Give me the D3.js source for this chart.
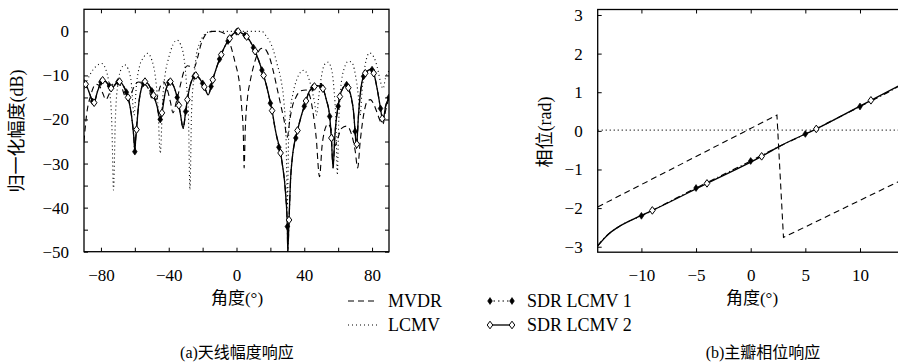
<!DOCTYPE html>
<html>
<head>
<meta charset="utf-8">
<script src="https://cdn.jsdelivr.net/npm/d3@7"></script>
<style>
  body { margin: 0; background: #fff; }
  svg { display: block; }
  text { font-family: "Liberation Serif", "Noto Sans CJK SC", serif; fill: #000; }
</style>
</head>
<body>
<svg id="chart" width="898" height="364"></svg>
<script>
// ---- data (a): normalised magnitude, [angle deg, dB]
const mvdrDb = [[-90,-25],[-88.5,-19],[-86,-14.5],[-83,-12],[-81,-12.3],[-79,-14],[-77,-15.5],[-75.5,-14.5],[-73,-12],[-71,-11.5],[-68,-12.5],[-65.5,-15],[-63.5,-15.5],[-61,-13],[-58,-11.5],[-55,-11.8],[-52,-13],[-49.5,-15.5],[-47.5,-15.5],[-45,-12.5],[-43,-11.5],[-41,-13],[-39,-16],[-37.5,-18.5],[-35.5,-16],[-33,-12],[-31,-9],[-29,-7.8],[-27,-8],[-25,-8.2],[-23,-6],[-21,-3],[-19,-1.2],[-17,-0.3],[-14,0],[-11,0],[-8,-0.3],[-5,-1.6],[-3,-3.8],[-1,-6.8],[1,-10],[2,-12.5],[3,-17],[4,-23],[4.5,-31],[5.2,-22],[6.5,-15],[8,-11.5],[10,-8],[12,-5.5],[14,-4],[16,-3.8],[18,-4.6],[20,-6.5],[22,-9.5],[24,-13],[26,-16.5],[28,-20],[30,-24],[31.5,-20],[33,-17],[35,-15],[38,-13.5],[41,-13.3],[43.5,-15],[45,-18],[47,-24],[49,-33],[50.5,-26],[52,-22.5],[54,-21],[56,-22.5],[58,-26],[60,-24],[62,-22],[65,-21.5],[68,-23.5],[70,-27],[71.5,-31],[73,-25],[75,-19],[77,-16],[79,-15.5],[81,-16.5],[83,-18.5],[85,-20.5],[86.5,-21],[88,-18],[90,-15]];

const lcmvDb = [[-90,-13],[-88,-11],[-86,-9.5],[-83,-8],[-79.5,-7.3],[-77,-8.8],[-75,-13],[-73.5,-22],[-72.6,-36],[-71.5,-20],[-70,-12],[-68,-8.5],[-66,-7.6],[-64,-8.5],[-62,-12],[-60.5,-19],[-59,-12],[-57,-7.6],[-55,-6],[-52.5,-5],[-50,-6.5],[-48,-10],[-46.5,-16],[-45,-27.7],[-43.5,-15],[-42,-9.5],[-40,-6],[-37.5,-3],[-35,-2],[-33,-3],[-31,-6],[-29.5,-12],[-28.3,-20],[-27.5,-36],[-26.5,-18],[-25,-10],[-23.5,-5],[-21.5,-2.5],[-19.5,-1],[-17.5,-0.3],[-15,0],[15,0],[17,-0.8],[19.5,-2.2],[21.5,-4],[24,-7.5],[26.5,-11.5],[28,-16],[29.3,-25],[30,-40],[30.7,-25],[31.5,-19],[33.4,-14],[35.5,-11],[38,-9.2],[40,-8.8],[42,-10],[44,-12.5],[46,-16],[47.3,-19],[48.5,-15],[50,-10.5],[52,-7.5],[54,-7],[56,-8.5],[57.5,-13],[58.7,-21],[59.5,-32.6],[60.3,-21],[61.5,-13],[63.5,-8.5],[66,-6.8],[68,-7],[70,-9.5],[72,-15],[73,-19],[74,-14],[76,-7.5],[78.5,-4.9],[81,-5.8],[83,-8],[85,-11.5],[86.5,-13],[88,-10.5],[90,-9]];

const sdr1Db = [[-90,-11.7],[-87,-13.8],[-85,-15.9],[-84.3,-16.4],[-82,-13.6],[-80,-11.5],[-78.5,-11.0],[-76,-11.9],[-75,-12.4],[-73.6,-12.9],[-71,-11.8],[-70,-11.5],[-69.3,-11.4],[-67,-12.2],[-65,-13.8],[-62,-19],[-60.6,-24],[-60,-27.3],[-59.5,-24.5],[-58,-17.5],[-56,-12.8],[-55,-11.8],[-54,-11.4],[-52,-12],[-50,-13.5],[-47,-16.8],[-45,-20],[-43.5,-16.5],[-42,-13.8],[-40,-11.6],[-39.2,-11.4],[-37,-12.5],[-35,-15],[-33,-19],[-31.5,-22],[-30,-18.2],[-29,-15.5],[-27,-11.8],[-25,-10.2],[-24,-10],[-22,-10.6],[-20,-11.8],[-18,-13.5],[-16.7,-14.4],[-15,-12.5],[-14,-11],[-12,-8.5],[-10,-6.3],[-7,-3.5],[-5,-2.2],[-2,-0.6],[0,-0.1],[0.7,0],[3,-0.4],[5,-0.9],[8,-2.2],[10,-3.7],[13,-6.5],[15,-8.8],[18,-12.8],[20,-16.3],[23,-22.5],[25,-26.3],[27,-30],[29,-37],[30,-44.3],[30.25,-50],[31,-42.8],[32,-33],[33,-28.5],[35,-24.2],[38,-19.5],[40,-17],[43,-13.6],[45,-12.8],[48,-12.3],[50,-12.5],[53,-15.5],[55,-19.3],[56,-24.2],[57,-31],[58,-24],[60,-17],[63,-12.7],[65,-12.1],[67.5,-15],[69,-18],[70,-22.7],[70.8,-26.5],[72,-19],[74,-11.5],[75,-10.2],[78,-8.8],[79.5,-8.6],[80,-8.7],[81,-9.5],[83,-13],[85,-17.5],[86.5,-20],[88,-17],[90,-15]];

const sdr2Db = [[-90,-11.7],[-89,-12.0],[-87,-13.8],[-85,-15.9],[-84.3,-16.4],[-84,-16.2],[-82,-13.6],[-79,-11.1],[-78.5,-11.0],[-76,-11.9],[-74,-12.9],[-73.6,-12.9],[-71,-11.8],[-69,-11.4],[-67,-12.2],[-64,-15],[-62,-19],[-60.6,-24],[-60,-27.3],[-59.5,-24.5],[-59,-22.3],[-58,-17.5],[-56,-12.8],[-54,-11.4],[-52,-12],[-49,-14.5],[-47,-16.8],[-45,-20],[-44,-18.5],[-42,-13.8],[-39,-11.4],[-37,-12.5],[-34,-16.8],[-33,-19],[-31.5,-22],[-30,-18.2],[-29,-15.5],[-27,-11.8],[-24,-10],[-22,-10.6],[-19,-12.6],[-16.7,-14.4],[-15,-12.5],[-14,-11],[-12,-8.5],[-9,-5.3],[-7,-3.5],[-4,-1.6],[-2,-0.6],[0,-0.1],[0.7,0],[1,0],[3,-0.4],[6,-1.2],[8,-2.2],[11,-4.5],[13,-6.5],[16,-10],[18,-12.8],[21,-18],[23,-22.5],[26,-27.6],[27,-30],[29,-37],[30,-44.3],[30.25,-50],[31,-42.8],[32,-33],[33,-28.5],[36,-22.5],[38,-19.5],[41,-15.8],[43,-13.6],[46,-12.5],[48,-12.3],[51,-13],[53,-15.5],[55,-19.3],[56,-24.2],[57,-31],[58,-24],[61,-14.8],[63,-12.7],[65,-12.1],[66,-12.8],[69,-18],[70,-22.7],[70.8,-26.5],[71,-25.6],[72,-19],[74,-11.5],[76,-9.5],[78,-8.8],[79.5,-8.6],[81,-9.5],[83,-13],[85,-17.5],[86,-19.8],[86.5,-20],[88,-17],[90,-15]];

const sdr1Marks = d3.range(-90, 91, 5);
const sdr2Marks = d3.range(-89, 90, 5);

// ---- data (b): main-lobe phase, [angle deg, rad]
const mvdrPhase = [[-14,-1.97],[2.4,0.41],[3.0,-2.76],[14,-1.25]];
const lcmvPhase = [[-14,0.02],[14,0.02]];
const sdr1Phase = [[-14,-2.98],[-13.5,-2.8],[-13,-2.67],[-12,-2.47],[-11,-2.32],[-10,-2.2],[-7.5,-1.84],[-5,-1.48],[-2.5,-1.13],[0,-0.78],[2.5,-0.42],[5,-0.08],[7.5,0.27],[10,0.63],[12.5,0.99],[14,1.23]];
const sdr2Phase = [[-14,-2.98],[-13,-2.67],[-12,-2.47],[-11,-2.32],[-9,-2.06],[-4,-1.36],[1,-0.66],[2.5,-0.42],[6,0.05],[11,0.79],[14,1.23]];
const sdr1PhaseMarks = [-10, -5, 0, 5, 10];
const sdr2PhaseMarks = [-9, -4, 1, 6, 11];

// ---- ticks / text
const xTicksA = d3.range(-80, 81, 20);
const xLabelsA = [-80, -40, 0, 40, 80];
const yTicksA = d3.range(-50, 1, 5);
const yLabelsA = [-50, -40, -30, -20, -10, 0];
const xTicksB = [-10, -5, 0, 5, 10];
const yTicksB = [-3, -2, -1, 0, 1, 2, 3];
const legendNames = ['MVDR', 'LCMV', 'SDR LCMV 1', 'SDR LCMV 2'];

const svg = d3.select('#chart');
const fmt = d3.format('d');

const xA = d3.scaleLinear().domain([-90, 90]).range([84, 389]);
const yA = d3.scaleLinear().domain([-50, 5]).range([251.7, 9.3]);
const xB = d3.scaleLinear().domain([-14, 14]).range([597.7, 903.7]);
const yB = d3.scaleLinear().domain([-Math.PI, Math.PI]).range([252.2, 9.5]);

const styles = {
  mvdr: { w: 1.1, dash: '6,4' },
  lcmv: { w: 1.1, dash: '1,3' },
  sdr1: { w: 1.2, dash: '6,3,1,3' },
  sdr2: { w: 1.3, dash: null }
};

function frame(id, x, y, xt, xl, yt, yl) {
  const [x0, x1] = x.range(), [y0, y1] = y.range();
  const g = svg.append('g').attr('class', 'frame-' + id);
  g.append('clipPath').attr('id', 'clip-' + id)
    .append('rect').attr('x', x0).attr('y', y1).attr('width', x1 - x0).attr('height', y0 - y1);

  const styleAxis = (sel) => {
    sel.select('.domain').remove();
    sel.selectAll('line').attr('stroke', '#000').attr('stroke-width', 1);
    sel.selectAll('text').style('font-size', '17px').style('font-family', '"Liberation Serif", serif');
  };
  g.append('g').attr('transform', `translate(0,${y0})`)
    .call(d3.axisBottom(x).tickValues(xt).tickSize(-4).tickPadding(17)
      .tickFormat(v => xl.includes(v) ? fmt(v) : ''))
    .call(styleAxis);
  g.append('g').attr('transform', `translate(0,${y1})`)
    .call(d3.axisTop(x).tickValues(xt).tickSize(-4).tickFormat(''))
    .call(styleAxis);
  g.append('g').attr('transform', `translate(${x0},0)`)
    .call(d3.axisLeft(y).tickValues(yt).tickSize(-4).tickPadding(15)
      .tickFormat(v => yl.includes(v) ? fmt(v) : ''))
    .call(styleAxis);
  g.append('g').attr('transform', `translate(${x1},0)`)
    .call(d3.axisRight(y).tickValues(yt).tickSize(-4).tickFormat(''))
    .call(styleAxis);
  g.append('rect').attr('x', x0).attr('y', y1).attr('width', x1 - x0).attr('height', y0 - y1)
    .attr('fill', 'none').attr('stroke', '#000').attr('stroke-width', 1.3);
  return g;
}

function series(id, x, y, data, st, curve) {
  svg.append('path').datum(data)
    .attr('clip-path', `url(#clip-${id})`)
    .attr('d', d3.line().x(d => x(d[0])).y(d => y(d[1])).curve(curve || d3.curveMonotoneX))
    .attr('fill', 'none').attr('stroke', '#000')
    .attr('stroke-width', st.w).attr('stroke-dasharray', st.dash);
}

const diamond = (w, h) => `M0,${-h}L${w},0L0,${h}L${-w},0Z`;
const filledMark = diamond(2.3, 3.4);
const hollowMark = diamond(2.8, 3.8);

function markers(id, x, y, data, marks, hollow) {
  svg.append('g').attr('clip-path', `url(#clip-${id})`)
    .selectAll('path').data(data.filter(d => marks.includes(d[0]))).join('path')
    .attr('transform', d => `translate(${x(d[0])},${y(d[1])})`)
    .attr('d', hollow ? hollowMark : filledMark)
    .attr('fill', hollow ? '#fff' : '#000')
    .attr('stroke', '#000').attr('stroke-width', hollow ? 1 : 0.7);
}

// panel (a)
frame('a', xA, yA, xTicksA, xLabelsA, yTicksA, yLabelsA);
series('a', xA, yA, mvdrDb, styles.mvdr);
series('a', xA, yA, lcmvDb, styles.lcmv);
series('a', xA, yA, sdr1Db, styles.sdr1);
series('a', xA, yA, sdr2Db, styles.sdr2);
markers('a', xA, yA, sdr1Db, sdr1Marks, false);
markers('a', xA, yA, sdr2Db, sdr2Marks, true);

// panel (b)
frame('b', xB, yB, xTicksB, xTicksB, yTicksB, yTicksB);
series('b', xB, yB, mvdrPhase, styles.mvdr, d3.curveLinear);
series('b', xB, yB, lcmvPhase, styles.lcmv, d3.curveLinear);
series('b', xB, yB, sdr1Phase, styles.sdr1);
series('b', xB, yB, sdr2Phase, styles.sdr2);
markers('b', xB, yB, sdr1Phase, sdr1PhaseMarks, false);
markers('b', xB, yB, sdr2Phase, sdr2PhaseMarks, true);

// axis titles
const txt = (x, y, s, size, rot) => {
  const t = svg.append('text').attr('x', x).attr('y', y).attr('text-anchor', 'middle')
    .style('font-size', size + 'px').text(s);
  if (rot) t.attr('transform', `rotate(-90,${x},${y})`);
  return t;
};
txt(237, 304, '角度(°)', 17);
txt(752, 304, '角度(°)', 17);
txt(23, 131, '归一化幅度(dB)', 18, true);
txt(551, 132, '相位(rad)', 18, true);
txt(237, 358, '(a)天线幅度响应', 16);
txt(763, 358, '(b)主瓣相位响应', 16);

// legend
const legendRows = [
  { name: legendNames[0], x: 348, y: 301, st: styles.mvdr, mark: null },
  { name: legendNames[1], x: 348, y: 325, st: styles.lcmv, mark: null },
  { name: legendNames[2], x: 489, y: 301, st: { w: 1, dash: '1.5,3' }, mark: 'fill' },
  { name: legendNames[3], x: 489, y: 325, st: styles.sdr2, mark: 'hollow' }
];
const lg = svg.append('g');
legendRows.forEach(r => {
  lg.append('line').attr('x1', r.x).attr('x2', r.x + (r.mark ? 24 : 29)).attr('y1', r.y).attr('y2', r.y)
    .attr('stroke', '#000').attr('stroke-width', r.st.w).attr('stroke-dasharray', r.st.dash);
  if (r.mark) {
    [r.x + 1, r.x + 23].forEach(mx => {
      lg.append('path').attr('transform', `translate(${mx},${r.y})`)
        .attr('d', r.mark === 'hollow' ? hollowMark : filledMark)
        .attr('fill', r.mark === 'hollow' ? '#fff' : '#000')
        .attr('stroke', '#000').attr('stroke-width', r.mark === 'hollow' ? 1 : 0.7);
    });
  }
  lg.append('text').attr('x', r.x + (r.mark ? 38 : 40)).attr('y', r.y + 6)
    .style('font-size', '18px').text(r.name);
});
</script>
</body>
</html>
